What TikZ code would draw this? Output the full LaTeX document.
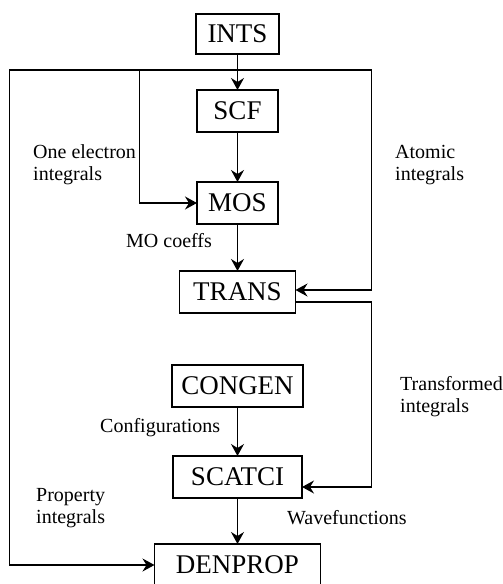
\documentclass[tikz,border=0pt]{standalone}
\usepackage{fontspec}
\setmainfont{Liberation Serif}
\usetikzlibrary{positioning, arrows.meta, calc}
\newcommand{\boxfont}{\fontsize{27pt}{30pt}\selectfont}
\newcommand{\lblfont}{\fontsize{20pt}{22pt}\selectfont}
\tikzset{
  % Program box
  prog/.style={
    rectangle, draw=black, line width=1.2pt,
    minimum height=42pt, inner xsep=2pt, outer sep=0pt,
    font=\boxfont, text=black
  },
  % Data flow arrow
  arr/.style={-{Stealth[length=12pt, width=13pt, inset=4pt]}, line width=1.2pt},
  % Data label
  lbl/.style={font=\lblfont, align=left, anchor=base west, inner sep=0pt},
}

\begin{document}
\begin{tikzpicture}[x=1pt, y=1pt]
  \useasboundingbox (0,0) rectangle (503,-584);
  \node[prog, minimum width=83pt, minimum height=40pt] (ints) at (237.5,-34) {INTS};
  \node[prog, minimum width=81pt, below=36pt of ints]  (scf)     {SCF};
  \node[prog, minimum width=81pt, below=50pt of scf]   (mos)     {MOS};
  \node[prog, minimum width=116pt, below=47pt of mos]  (trans)   {TRANS};
  \node[prog, minimum width=131pt, below=52pt of trans] (congen) {CONGEN};
  \node[prog, minimum width=129pt, below=49pt of congen] (scatci) {SCATCI};
  \node[prog, minimum width=166pt, below=46pt of scatci] (denprop) {DENPROP};
  \coordinate[below=16pt of ints.south] (split);
  % labels (base = last line)
  \node[lbl] (onel)  at (33,-180)  {One electron\\integrals};
  \node[lbl] (atoml) at (395,-180) {Atomic\\integrals};
  \node[lbl] (mocl)  at (126,-247) {MO coeffs};
  \node[lbl] (tranl) at (400,-412) {Transformed\\integrals};
  \node[lbl] (confl) at (100,-432) {Configurations};
  \node[lbl] (propl) at (36,-523)  {Property\\integrals};
  \node[lbl] (wavel) at (287,-524) {Wavefunctions};
  % connectors
  \draw[arr] (ints) -- (scf);
  \draw[arr] (scf) -- (mos);
  \draw[arr] (mos) -- (trans);
  \draw[arr] (congen) -- (scatci);
  \draw[arr] (scatci) -- (denprop);
  \draw[arr] (split) -- ++(-228,0) |- (denprop.west);
  \draw[arr] (split) -- ++(-98,0) |- (mos.west);
  \draw[arr] (split) -- ++(134,0) |- ([yshift=2pt]trans.east);
  \draw[arr] ([yshift=-10pt]trans.east) -- ++(76,0) |- ([yshift=-10pt]scatci.east);
\end{tikzpicture}
\end{document}
